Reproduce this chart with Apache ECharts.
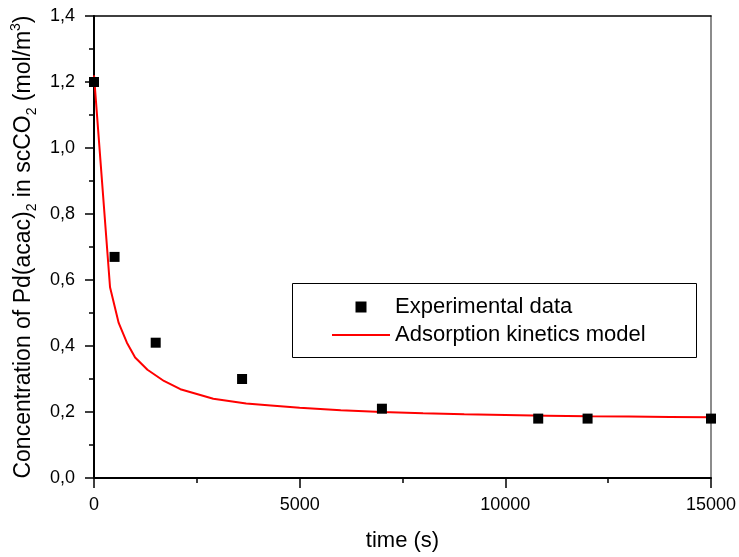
<!DOCTYPE html>
<html>
<head>
<meta charset="utf-8">
<script src="https://cdn.jsdelivr.net/npm/echarts@6/dist/echarts.min.js"></script>
<style>
html,body{margin:0;padding:0;background:#fff;}
#chart{width:739px;height:557px;}
</style>
</head>
<body>
<div id="chart"></div>
<script>
// Experimental data
var expTime = [0, 500, 1500, 3600, 7000, 10800, 12000, 15000];
var expConc = [1.20, 0.67, 0.41, 0.30, 0.21, 0.18, 0.18, 0.18];
// Adsorption kinetics model curve
var modelTime = [0, 390, 600, 800, 1000, 1300, 1700, 2100, 2900, 3700, 4300, 5000, 6000, 7000, 8000, 9000, 10000, 11000, 12000, 13000, 14000, 15000];
var modelConc = [1.22, 0.578, 0.47, 0.41, 0.365, 0.328, 0.294, 0.269, 0.240, 0.226, 0.220, 0.213, 0.205, 0.200, 0.196, 0.193, 0.191, 0.189, 0.187, 0.186, 0.185, 0.184];
var seriesNames = ['Experimental data', 'Adsorption kinetics model'];

var FONT = 'Arial, "Liberation Sans", sans-serif';
function zip(a, b) { return a.map(function (v, i) { return [v, b[i]]; }); }

var chart = echarts.init(document.getElementById('chart'), null, {renderer: 'canvas'});
chart.setOption({
  backgroundColor: '#ffffff',
  animation: false,
  textStyle: {fontFamily: FONT},
  grid: {left: 94, right: 26, top: 16, bottom: 74, containLabel: false},
  graphic: [{
    type: 'rect', z: 1,
    shape: {x: 292.5, y: 283.5, width: 404, height: 74},
    style: {fill: '#ffffff', stroke: '#000000', lineWidth: 1}
  }],
  legend: [{
    data: [
      {name: seriesNames[0], icon: 'path://M0,0L10,0L10,10L0,10Z'},
      {name: seriesNames[1], icon: 'path://M0,0L100,0L100,3.4L0,3.4Z'}
    ],
    orient: 'vertical',
    left: 332, top: 295,
    padding: 0,
    itemWidth: 58, itemHeight: 11,
    itemGap: 4,
    symbolKeepAspect: true,
    z: 5,
    textStyle: {fontFamily: FONT, fontSize: 22, color: '#000', lineHeight: 24}
  }],
  xAxis: [{
    type: 'value', position: 'bottom', min: 0, max: 15000, interval: 5000,
    name: 'time (s)', nameLocation: 'middle', nameGap: 52,
    nameTextStyle: {fontFamily: FONT, fontSize: 22, color: '#000'},
    axisLine: {show: true, onZero: false, lineStyle: {color: '#000', width: 2}},
    axisTick: {show: true, inside: false, length: 10, lineStyle: {color: '#000', width: 1.5}},
    minorTick: {show: true, splitNumber: 2, length: 5, lineStyle: {color: '#000', width: 1.5}},
    axisLabel: {fontFamily: FONT, fontSize: 18, color: '#000', margin: 18,
      formatter: function (v) { return String(v); }},
    splitLine: {show: false}
  }, {
    type: 'value', position: 'top', min: 0, max: 15000, interval: 5000,
    axisLine: {show: true, onZero: false, lineStyle: {color: '#000', width: 1.5}},
    axisTick: {show: false}, axisLabel: {show: false}, splitLine: {show: false}
  }],
  yAxis: [{
    type: 'value', position: 'left', min: 0, max: 1.4, interval: 0.2,
    name: '{n|Concentration of Pd(acac)}{sub|2}{n| in scCO}{sub|2}{n| (mol/m}{sup|3}{n|)}',
    nameLocation: 'middle', nameGap: 54, nameRotate: 90,
    nameTextStyle: {
      fontFamily: FONT, fontSize: 23, color: '#000',
      rich: {
        n: {fontFamily: FONT, fontSize: 23, color: '#000', lineHeight: 30, verticalAlign: 'middle'},
        sub: {fontFamily: FONT, fontSize: 14, color: '#000', lineHeight: 30, verticalAlign: 'bottom'},
        sup: {fontFamily: FONT, fontSize: 14, color: '#000', lineHeight: 30, verticalAlign: 'top'}
      }
    },
    axisLine: {show: true, onZero: false, lineStyle: {color: '#000', width: 2}},
    axisTick: {show: true, inside: false, length: 9, lineStyle: {color: '#000', width: 1.5}},
    minorTick: {show: true, splitNumber: 2, length: 5, lineStyle: {color: '#000', width: 1.5}},
    axisLabel: {fontFamily: FONT, fontSize: 18, color: '#000', margin: 19,
      formatter: function (v) { return v.toFixed(1).replace('.', ','); }},
    splitLine: {show: false}
  }, {
    type: 'value', position: 'right', min: 0, max: 1.4, interval: 0.2,
    axisLine: {show: true, onZero: false, lineStyle: {color: '#666', width: 1.5}},
    axisTick: {show: false}, axisLabel: {show: false}, splitLine: {show: false}
  }],
  series: [{
    name: seriesNames[0], type: 'scatter', xAxisIndex: 0, yAxisIndex: 0,
    symbol: 'rect', symbolSize: 10,
    itemStyle: {color: '#000000', opacity: 1},
    data: zip(expTime, expConc), z: 3
  }, {
    name: seriesNames[1], type: 'line', xAxisIndex: 0, yAxisIndex: 0,
    symbol: 'none', showSymbol: false, smooth: false,
    lineStyle: {color: '#ff0000', width: 2},
    itemStyle: {color: '#ff0000'},
    data: zip(modelTime, modelConc), z: 2
  }]
});
</script>
</body>
</html>
